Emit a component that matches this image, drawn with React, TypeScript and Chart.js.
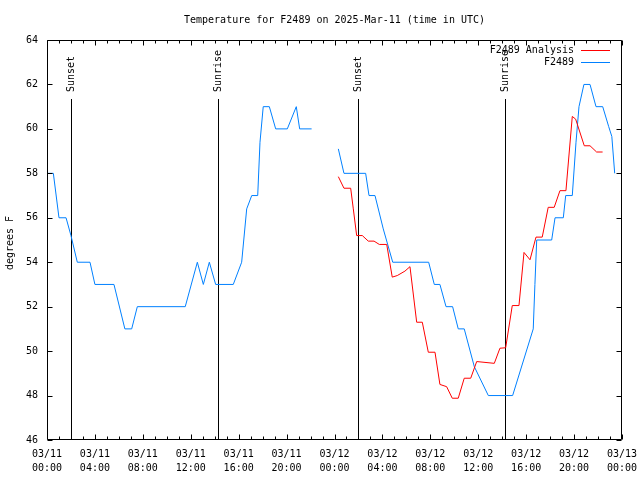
import React, { useEffect, useRef } from 'react';
import { Chart, registerables } from 'chart.js';

Chart.register(...registerables);

// Hours since 2025-03-11 00:00 UTC
const analysisHours = [24.32, 24.79, 25.35, 25.57, 25.85, 26.32, 26.82, 27.3, 27.74, 28.36, 28.82, 29.24, 29.88, 30.3, 30.86, 31.33, 31.83, 32.39, 32.8, 33.36, 33.83, 34.33, 34.83, 35.37, 35.87, 37.34, 37.81, 38.29, 38.84, 39.4, 39.82, 40.32, 40.82, 41.34, 41.84, 42.34, 42.82, 43.32, 43.85, 44.13, 44.85, 45.33, 45.88, 46.38];
const analysisTemps = [57.85, 57.33, 57.33, 56.4, 55.2, 55.2, 54.95, 54.95, 54.8, 54.8, 53.33, 53.4, 53.6, 53.8, 51.3, 51.3, 49.95, 49.95, 48.5, 48.4, 47.88, 47.88, 48.78, 48.78, 49.53, 49.45, 50.13, 50.15, 52.05, 52.05, 54.44, 54.11, 55.13, 55.13, 56.47, 56.47, 57.22, 57.22, 60.56, 60.44, 59.24, 59.24, 58.96, 58.96];

const obsHours = [0, 0.53, 1.0, 1.59, 2.0, 2.53, 3.59, 4.0, 5.59, 6.5, 7.07, 7.54, 11.54, 12.55, 13.05, 13.55, 14.08, 15.55, 16.25, 16.67, 17.09, 17.59, 17.78, 18.05, 18.56, 19.09, 20.06, 20.81, 21.09, 22.09, 23.2, 24.32, 24.79, 26.6, 26.88, 27.38, 28.07, 28.86, 31.86, 32.33, 32.8, 33.31, 33.86, 34.33, 34.83, 35.67, 36.84, 38.87, 40.59, 40.73, 40.88, 42.13, 42.41, 43.1, 43.3, 43.85, 44.16, 44.41, 44.82, 45.33, 45.83, 46.39, 46.89, 47.15, 47.39];
const obsTemps = [58, 58, 56, 56, 55.2, 54, 54, 53, 53, 51, 51, 52, 52, 54, 53, 54, 53, 53, 54, 56.4, 57, 57, 59.4, 61, 61, 60, 60, 61, 60, 60, null, 59.1, 58, 58, 57, 57, 55.5, 54, 54, 53, 53, 52, 52, 51, 51, 49.3, 48, 48, 51, 53, 55, 55, 56, 56, 57, 57, 59.4, 61, 62, 62, 61, 61, 60.1, 59.66, 58];

const sunHours = [1.98, 14.3, 25.99, 38.26];
const sunLabels = ['Sunset', 'Sunrise', 'Sunset', 'Sunrise'];

const seriesNames = ['F2489 Analysis', 'F2489'];
const seriesColors = ['#ff0000', '#0080ff'];

const titleText = 'Temperature for F2489 on 2025-Mar-11 (time in UTC)';
const yTitle = 'degrees F';
const xMin = 0, xMax = 48, xStep = 4;
const yMin = 46, yMax = 64, yStep = 2;

const FONT = '"DejaVu Sans Mono", monospace';

const gnuPlugin = {
  id: 'gnu',
  beforeDatasetsDraw(chart: any) {
    const ctx = chart.ctx;
    const xs = chart.scales.x;
    const area = chart.chartArea;
    ctx.save();
    ctx.strokeStyle = '#000';
    ctx.lineWidth = 1;
    ctx.fillStyle = '#000';
    ctx.font = '10px ' + FONT;
    sunHours.forEach((h, i) => {
      const px = Math.round(xs.getPixelForValue(h)) + 0.5;
      ctx.beginPath();
      ctx.moveTo(px, 99);
      ctx.lineTo(px, area.bottom);
      ctx.stroke();
      ctx.save();
      ctx.translate(px, 92);
      ctx.rotate(-Math.PI / 2);
      ctx.textAlign = 'left';
      ctx.textBaseline = 'middle';
      ctx.fillText(sunLabels[i], 0, 0);
      ctx.restore();
    });
    ctx.restore();
  },
  afterDraw(chart: any) {
    const ctx = chart.ctx;
    const xs = chart.scales.x;
    const ys = chart.scales.y;
    const a = chart.chartArea;
    const L = Math.round(a.left) + 0.5, R = Math.round(a.right) - 0.5;
    const T = Math.round(a.top) + 0.5, B = Math.round(a.bottom) - 0.5;
    ctx.save();
    ctx.strokeStyle = '#000';
    ctx.lineWidth = 1;
    ctx.beginPath();
    ctx.rect(L, T, R - L, B - T);
    for (let v = yMin; v <= yMax; v += yStep) {
      const py = Math.round(ys.getPixelForValue(v)) + 0.5;
      ctx.moveTo(L, py); ctx.lineTo(L + 5, py);
      ctx.moveTo(R, py); ctx.lineTo(R - 5, py);
    }
    for (let h = xMin; h <= xMax; h += 1) {
      const px = Math.round(xs.getPixelForValue(h)) + 0.5;
      const len = h % xStep === 0 ? 5 : 3;
      ctx.moveTo(px, B); ctx.lineTo(px, B - len);
      ctx.moveTo(px, T); ctx.lineTo(px, T + len);
    }
    ctx.stroke();

    ctx.fillStyle = '#000';
    ctx.font = '10px ' + FONT;
    ctx.textAlign = 'center';
    ctx.textBaseline = 'middle';
    ctx.fillText(titleText, (a.left + a.right) / 2, 20);
    ctx.save();
    ctx.translate(10, 243);
    ctx.rotate(-Math.PI / 2);
    ctx.fillText(yTitle, 0, 0);
    ctx.restore();
    const rows = [50, 62];
    seriesNames.forEach((name, i) => {
      ctx.textAlign = 'right';
      ctx.fillStyle = '#000';
      ctx.fillText(name, 574, rows[i]);
      ctx.strokeStyle = seriesColors[i];
      ctx.beginPath();
      ctx.moveTo(581, rows[i] + 0.5);
      ctx.lineTo(610, rows[i] + 0.5);
      ctx.stroke();
    });
    ctx.restore();
  },
};

export default function App() {
  const ref = useRef<HTMLCanvasElement>(null);
  useEffect(() => {
    document.body.style.margin = '0';
    const canvas = ref.current!;
    const chart = new Chart(canvas, {
      type: 'line',
      data: {
        datasets: [
          {
            label: seriesNames[0],
            data: analysisHours.map((h, i) => ({ x: h, y: analysisTemps[i] })),
            borderColor: seriesColors[0],
            borderWidth: 1,
            pointRadius: 0,
            tension: 0,
            spanGaps: false,
            fill: false,
          },
          {
            label: seriesNames[1],
            data: obsHours.map((h, i) => ({ x: h, y: obsTemps[i] })),
            borderColor: seriesColors[1],
            borderWidth: 1,
            pointRadius: 0,
            tension: 0,
            spanGaps: false,
            fill: false,
          },
        ],
      },
      options: {
        responsive: false,
        animation: false,
        devicePixelRatio: 1,
        layout: { padding: { top: 40, right: 18, left: 0, bottom: 0 } },
        plugins: { legend: { display: false }, title: { display: false }, tooltip: { enabled: false } },
        scales: {
          x: {
            type: 'linear',
            min: xMin,
            max: xMax,
            grid: { display: false, drawTicks: false },
            border: { display: false },
            afterFit: (s: any) => { s.height = 40; s.paddingLeft = 0; s.paddingRight = 0; },
            ticks: {
              stepSize: xStep,
              autoSkip: false,
              maxRotation: 0,
              padding: 7,
              color: '#000',
              font: { family: FONT, size: 10, lineHeight: 1.4 },
              callback: (v: any) => {
                const d = 11 + Math.floor(v / 24);
                const h = v % 24;
                return ['03/' + String(d).padStart(2, '0'), String(h).padStart(2, '0') + ':00'];
              },
            },
          },
          y: {
            min: yMin,
            max: yMax,
            grid: { display: false, drawTicks: false },
            border: { display: false },
            afterFit: (s: any) => { s.width = 47; s.paddingTop = 0; s.paddingBottom = 0; },
            ticks: {
              stepSize: yStep,
              padding: 9,
              color: '#000',
              font: { family: FONT, size: 10 },
            },
          },
        },
      },
      plugins: [gnuPlugin],
    });
    return () => chart.destroy();
  }, []);
  return (
    <div style={{ width: 640, height: 480, background: '#fff' }}>
      <canvas ref={ref} width={640} height={480} style={{ display: 'block' }} />
    </div>
  );
}
